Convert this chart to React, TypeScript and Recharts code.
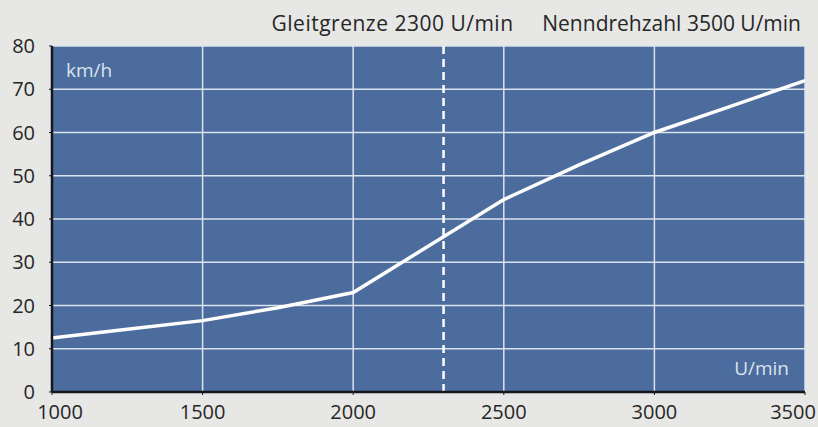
import React from "react";
import {
  LineChart,
  Line,
  XAxis,
  YAxis,
  CartesianGrid,
  ReferenceLine,
} from "recharts";

// engine speed (U/min) vs. speed (km/h)
const rpm = [1000, 1250, 1500, 1750, 2000, 2500, 2750, 3000, 3250, 3500];
const kmh = [12.5, 14.5, 16.5, 19.5, 23, 44.5, 52.5, 60, 66, 72];
const xTicks = [1000, 1500, 2000, 2500, 3000, 3500];
const yTicks = [0, 10, 20, 30, 40, 50, 60, 70, 80];
const slipLimit = 2300;
const ratedSpeed = 3500;
const slipLabel = "Gleitgrenze 2300 U/min";
const ratedLabel = "Nenndrehzahl 3500 U/min";

const data = rpm.map((r, i) => ({ rpm: r, kmh: kmh[i] }));

const FONT = "'Open Sans', sans-serif";
const TEXT = "#262626";
const BLUE = "#4b6c9d";
const GRID = "#dbe3ee";

// first and last x labels sit a little inside the plot edges
function XTick({ x, y, payload, index }: any) {
  const shift = index === 0 ? 8 : index === xTicks.length - 1 ? -9 : 0;
  return (
    <text x={x + shift} y={y + 22} textAnchor="middle" fill={TEXT} fontSize={20} fontFamily={FONT}>
      {payload.value}
    </text>
  );
}

export default function App() {
  return (
    <div
      style={{
        position: "fixed",
        left: 0,
        top: 0,
        width: 818,
        height: 427,
        background: "#e7e7e5",
        fontFamily: FONT,
      }}
    >
      <LineChart width={818} height={427} data={data} margin={{ top: 46, right: 13, bottom: 0, left: 0 }}>
        <CartesianGrid fill={BLUE} stroke={GRID} strokeWidth={1.5} />
        <XAxis
          dataKey="rpm"
          type="number"
          domain={[1000, 3500]}
          ticks={xTicks}
          height={35}
          axisLine={{ stroke: "#14161c", strokeWidth: 2.5 }}
          tickLine={{ stroke: "#14161c" }}
          tickSize={3}
          tick={<XTick />}
          label={{
            content: ({ viewBox }: any) => (
              <text
                x={viewBox.x + viewBox.width - 16}
                y={viewBox.y - 17}
                textAnchor="end"
                fill={GRID}
                fontSize={19}
                fontFamily={FONT}
              >
                U/min
              </text>
            ),
          }}
        />
        <YAxis
          type="number"
          domain={[0, 80]}
          ticks={yTicks}
          width={52}
          axisLine={{ stroke: "#14161c", strokeWidth: 2.5 }}
          tickLine={{ stroke: "#14161c" }}
          tickSize={3}
          tick={{ fill: TEXT, fontSize: 20, fontFamily: FONT }}
          tickMargin={14}
          label={{
            content: ({ viewBox }: any) => (
              <text
                x={viewBox.x + viewBox.width + 14}
                y={viewBox.y + 31}
                textAnchor="start"
                fill={GRID}
                fontSize={19}
                fontFamily={FONT}
              >
                km/h
              </text>
            ),
          }}
        />
        <ReferenceLine
          x={slipLimit}
          stroke="#ffffff"
          strokeWidth={2.5}
          strokeDasharray="8 5"
          label={{
            content: ({ viewBox }: any) => (
              <text
                x={viewBox.x + 70}
                y={viewBox.y - 15}
                textAnchor="end"
                fill={TEXT}
                fontSize={21}
                letterSpacing={0.5}
                fontFamily={FONT}
              >
                {slipLabel}
              </text>
            ),
          }}
        />
        <ReferenceLine
          x={ratedSpeed}
          stroke="none"
          label={{
            content: ({ viewBox }: any) => (
              <text
                x={viewBox.x - 4}
                y={viewBox.y - 15}
                textAnchor="end"
                fill={TEXT}
                fontSize={21}
                fontFamily={FONT}
              >
                {ratedLabel}
              </text>
            ),
          }}
        />
        <Line
          type="linear"
          dataKey="kmh"
          stroke="#ffffff"
          strokeWidth={3.5}
          dot={false}
          isAnimationActive={false}
        />
      </LineChart>
    </div>
  );
}
